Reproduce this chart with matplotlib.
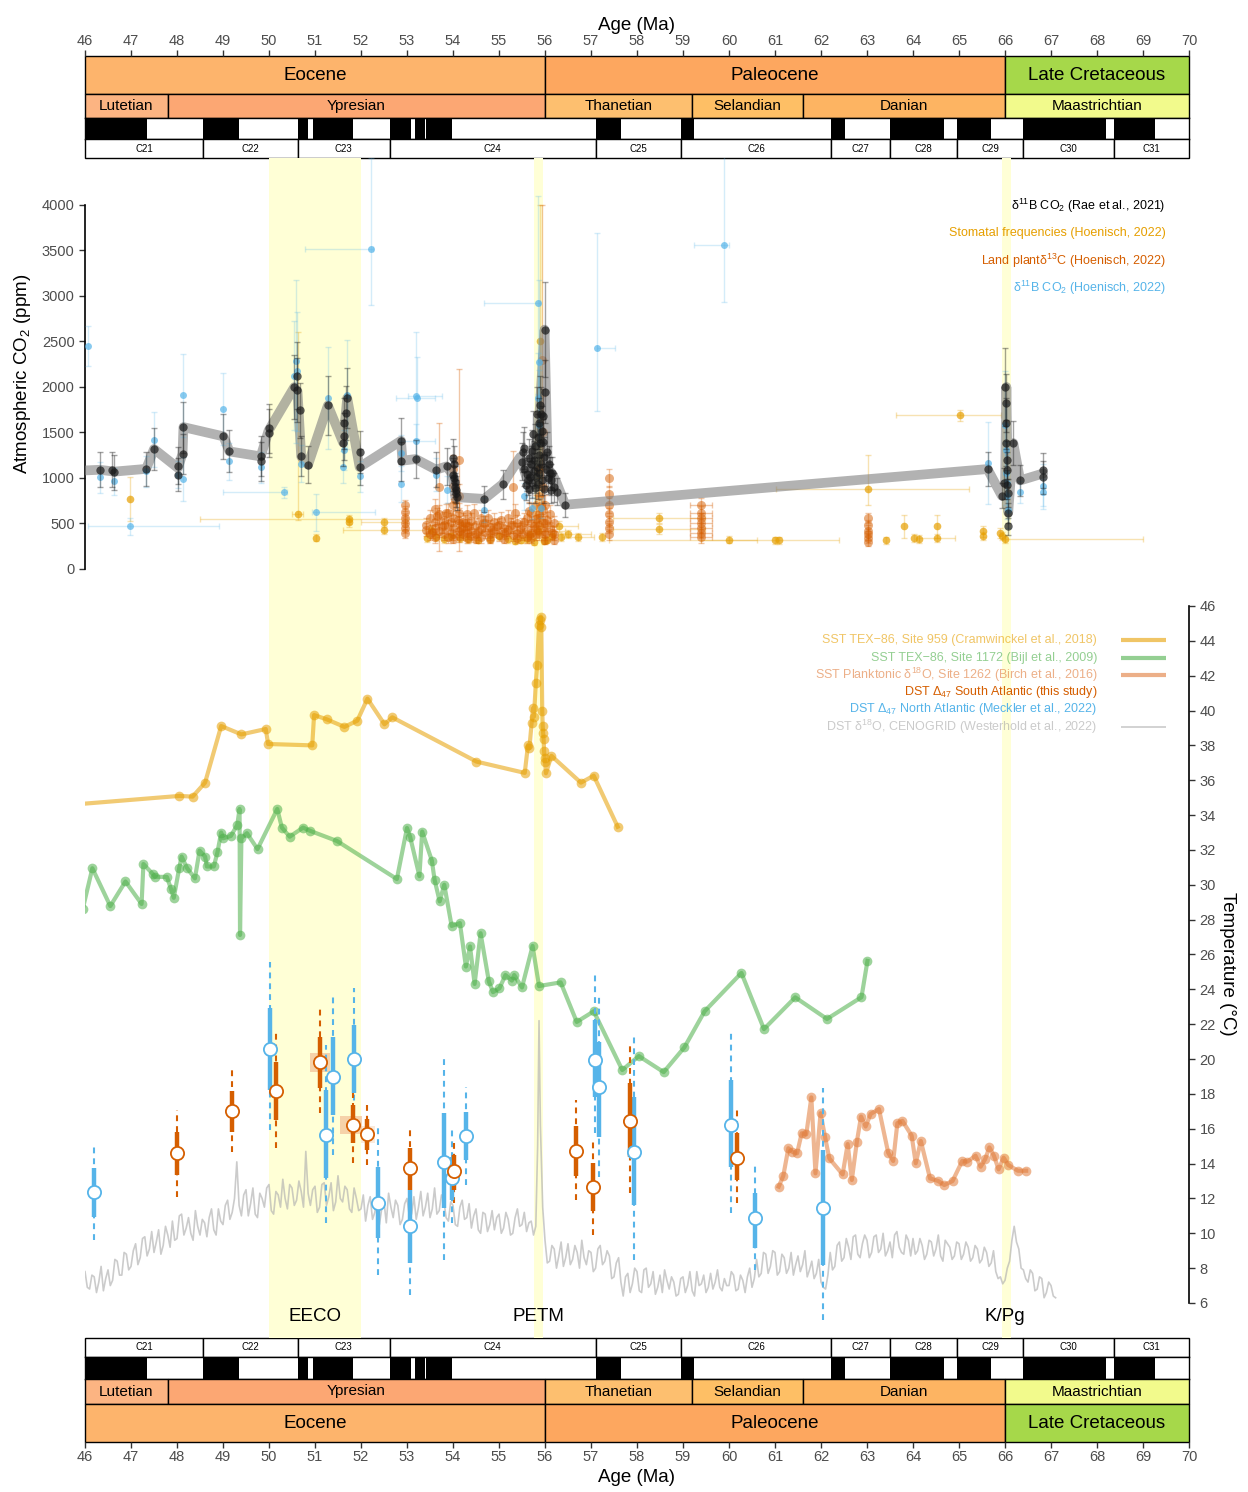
import matplotlib
matplotlib.use('Agg')
import matplotlib.pyplot as plt
from matplotlib.patches import Rectangle

plt.rcParams['font.family'] = ['Liberation Sans', 'DejaVu Sans']
plt.rcParams['mathtext.fontset'] = 'custom'
plt.rcParams['mathtext.rm'] = 'Liberation Sans'
plt.rcParams['mathtext.it'] = 'Liberation Sans:italic'
plt.rcParams['mathtext.default'] = 'regular'

# ---------------- geologic time scale ----------------
epochs = ['Eocene', 'Paleocene', 'Late Cretaceous']
epoch_start = [46.0, 56.0, 66.0]
epoch_end = [56.0, 66.0, 70.0]
epoch_col = ['#FDB46C', '#FDA75F', '#A6D84A']

stages = ['Lutetian', 'Ypresian', 'Thanetian', 'Selandian', 'Danian', 'Maastrichtian']
stage_start = [46.0, 47.8, 56.0, 59.2, 61.6, 66.0]
stage_end = [47.8, 56.0, 59.2, 61.6, 66.0, 70.0]
stage_col = ['#FCB482', '#FCA773', '#FDBF6F', '#FEBF65', '#FDB462', '#F2FA8C']

# normal polarity intervals
pol_start = [45.72, 48.57, 50.63, 50.95, 52.62, 53.18, 53.41, 57.10, 58.96, 62.22, 63.49, 64.96, 66.40, 68.37]
pol_end = [47.35, 49.34, 50.84, 51.83, 53.08, 53.39, 53.98, 57.66, 59.24, 62.52, 64.67, 65.69, 68.20, 69.27]

chrons = ['C21', 'C22', 'C23', 'C24', 'C25', 'C26', 'C27', 'C28', 'C29', 'C30', 'C31']
chron_start = [46.0, 48.57, 50.63, 52.62, 57.10, 58.96, 62.22, 63.49, 64.96, 66.40, 68.37]
chron_end = [48.57, 50.63, 52.62, 57.10, 58.96, 62.22, 63.49, 64.96, 66.40, 68.37, 70.0]

events = ['EECO', 'PETM', 'K/Pg']
event_start = [50.0, 55.75, 65.93]
event_end = [52.0, 55.95, 66.12]
event_label_age = [51.0, 55.85, 66.0]

# ---------------- CO2 ----------------
# Rae et al. 2021, boron isotopes
rae_age = [46.32, 46.58, 46.64, 47.33, 47.50, 48.02, 48.02, 48.12, 48.14, 49.01,
           49.14, 49.82, 49.82, 49.99, 49.99, 50.55, 50.60, 50.60, 50.68, 50.70,
           50.85, 51.28, 51.61, 51.63, 51.64, 51.67, 51.70, 51.97, 51.97, 52.87,
           52.87, 53.19, 53.63, 53.86, 53.99, 54.00, 54.02, 54.03, 54.04, 54.05,
           54.06, 54.07, 54.08, 54.68, 55.08,
           55.50, 55.52, 55.55, 55.55, 55.58, 55.60, 55.62, 55.65, 55.66, 55.68,
           55.70, 55.71, 55.72, 55.74, 55.75, 55.76, 55.78, 55.79, 55.80, 55.82,
           55.83, 55.84, 55.85, 55.86, 55.87, 55.88, 55.89, 55.90, 55.91, 55.92,
           55.93, 55.94, 55.95, 55.96, 55.97, 55.98, 55.99, 56.00, 56.02, 56.04,
           56.06, 56.08, 56.10, 56.12, 56.14, 56.16, 56.20, 56.25, 56.44,
           65.62, 65.93, 65.98, 66.01, 66.02, 66.03, 66.03, 66.04, 66.05, 66.05,
           66.06, 66.06, 66.07, 66.18, 66.33, 66.83, 66.83]
rae_co2 = [1091, 1091, 1061, 1098, 1318, 1135, 1036, 1266, 1559, 1457,
           1292, 1237, 1182, 1493, 1548, 1998, 1969, 2123, 1742, 1237,
           1146, 1797, 1383, 1457, 1603, 1713, 1878, 1281, 1120, 1409,
           1182, 1208, 1091, 1127, 1036, 1220, 1150, 1000, 960, 900,
           870, 830, 790, 769, 933,
           1180, 1290, 1330, 1100, 920, 1040, 980, 1220, 880, 1010,
           1150, 1300, 950, 1480, 1080, 1200, 890, 1350, 1010, 1120,
           1700, 930, 1450, 1600, 1250, 1050, 1800, 1380, 1700, 1150,
           980, 1520, 1680, 1400, 880, 1230, 2630, 1950, 1100, 1280,
           1000, 1150, 1050, 870, 980, 1050, 900, 850, 706,
           1098, 805, 940, 1998, 1823, 1603, 1383, 1200, 1091, 926,
           834, 615, 468, 1383, 973, 1083, 1006]
rae_err = [190, 190, 190, 190, 230, 200, 180, 220, 280, 250,
           230, 220, 210, 260, 270, 350, 350, 370, 300, 220,
           200, 320, 250, 260, 280, 300, 330, 230, 200, 250,
           210, 210, 190, 200, 180, 210, 200, 180, 170, 160,
           150, 150, 140, 140, 160,
           200, 220, 230, 190, 160, 180, 170, 210, 150, 180,
           200, 230, 170, 260, 190, 210, 160, 240, 180, 200,
           300, 160, 250, 280, 220, 180, 320, 240, 300, 200,
           170, 270, 300, 250, 150, 220, 520, 350, 190, 220,
           180, 200, 180, 150, 170, 180, 160, 150, 130,
           190, 140, 170, 430, 320, 280, 250, 210, 190, 160,
           150, 110, 90, 240, 170, 190, 180]

# smoothed path through the Rae et al. record
rae_fit_age = [46.0, 46.32, 46.64, 47.33, 47.50, 48.02, 48.12, 48.14, 49.01, 49.14,
               49.82, 49.99, 50.55, 50.62, 50.70, 50.85, 51.28, 51.61, 51.70, 51.97,
               52.87, 52.90, 53.19, 53.63, 53.86, 53.99, 54.05, 54.68, 55.08, 55.46,
               55.60, 55.75, 55.85, 55.99, 56.06, 56.15, 56.25, 56.44, 65.62, 65.93,
               66.00, 66.03, 66.07, 66.18, 66.33, 66.83]
rae_fit_co2 = [1083, 1090, 1070, 1100, 1318, 1110, 1266, 1559, 1457, 1292,
               1237, 1520, 1998, 1950, 1237, 1146, 1797, 1390, 1878, 1120,
               1409, 1190, 1208, 1091, 1127, 1040, 790, 770, 933, 1230,
               1000, 1300, 1450, 2630, 1100, 1050, 950, 706, 1098, 805,
               900, 2000, 620, 1383, 973, 1050]

# Hoenisch 2022 compilation, boron isotopes
hb_age = [46.06, 46.32, 46.64, 46.97, 47.33, 47.50, 48.02, 48.12, 48.13, 49.01,
          49.14, 49.82, 50.33, 50.55, 50.58, 50.60, 50.70, 51.03, 51.28, 51.61,
          51.63, 51.70, 51.97, 52.21, 52.87, 52.87, 53.19, 53.21, 53.19, 53.63,
          53.86, 54.68, 55.54, 55.71, 55.84, 55.85, 55.86, 55.88, 55.92, 57.12,
          59.89, 65.62, 66.01, 66.02, 66.03, 66.04, 66.05, 66.06, 66.33, 66.83,
          66.83]
hb_co2 = [2445, 1006, 963, 468, 1072, 1420, 1036, 988, 1907, 1757,
          1182, 1120, 842, 2126, 2280, 2170, 1157, 622, 1878, 1120,
          1310, 1914, 1017, 3514, 937, 1274, 1903, 1877, 1409, 1036,
          871, 651, 798, 670, 2928, 1878, 1585, 2270, 670, 2427,
          3561, 1164, 1580, 1310, 1050, 950, 800, 650, 842, 908,
          842]
hb_lo = [220, 170, 150, 90, 170, 300, 150, 240, 460, 400,
         200, 170, 60, 600, 900, 650, 200, 200, 560, 180,
         220, 600, 170, 610, 200, 200, 700, 450, 180, 180,
         150, 130, 150, 120, 1000, 500, 600, 900, 110, 690,
         630, 450, 600, 500, 350, 300, 250, 200, 120, 250,
         150]
hb_hi = [230, 170, 150, 90, 170, 300, 150, 240, 460, 400,
         200, 170, 60, 600, 900, 650, 200, 200, 560, 180,
         220, 600, 170, 1000, 200, 200, 700, 450, 180, 180,
         150, 130, 150, 120, 1170, 500, 600, 900, 110, 1270,
         1000, 450, 600, 500, 350, 300, 250, 200, 120, 250,
         150]
hb_xlo = [0, 0, 0, 0.91, 0, 0, 0, 0, 0, 0,
          0, 0, 1.33, 0, 0, 0, 0, 0.10, 0, 0,
          0, 0, 0, 1.43, 0, 0, 0.17, 0.45, 0.35, 0,
          0, 0, 0, 0, 1.16, 0, 0, 0, 0, 0,
          0.65, 0, 0, 0, 0, 0, 0, 0, 0, 0,
          0]
hb_xhi = [0, 0, 0, 1.95, 0, 0, 0, 0, 0, 0,
          0, 0, 0.07, 0, 0, 0, 0, 1.27, 0, 0,
          0, 0, 0, 0.05, 0, 0, 0.57, 0.40, 0.41, 0,
          0, 0, 0, 0, 0.05, 0, 0, 0, 0, 0.40,
          0.10, 0, 0, 0, 0, 0, 0, 0, 0, 0,
          0]

# Hoenisch 2022 compilation, stomatal frequencies
st_age = [46.97, 50.62, 51.03, 51.74, 51.74, 52.50, 52.50, 53.43, 53.52, 53.62,
          53.80, 53.95, 54.15, 54.32, 54.55, 54.80, 55.00, 55.20, 55.35, 55.48,
          55.60, 55.68, 55.76, 55.84, 55.90, 55.97, 56.05, 56.16, 56.31, 56.35,
          56.50, 56.71, 57.23, 58.48, 58.48, 60.00, 61.00, 61.08, 63.02, 63.41,
          63.80, 64.02, 64.12, 64.52, 64.52, 65.02, 65.52, 65.52, 65.89, 65.93,
          66.00]
st_co2 = [770, 600, 345, 545, 515, 515, 432, 340, 430, 350,
          330, 360, 340, 330, 320, 330, 360, 330, 310, 320,
          330, 370, 300, 420, 2500, 310, 320, 360, 468, 351,
          380, 351, 351, 560, 439, 322, 315, 315, 878, 315,
          468, 340, 330, 468, 340, 1687, 413, 359, 395, 359,
          330]
st_lo = [240, 60, 40, 50, 50, 50, 45, 40, 50, 40,
         40, 40, 40, 40, 40, 40, 40, 40, 40, 40,
         40, 45, 40, 50, 1500, 40, 40, 40, 60, 40,
         45, 40, 40, 60, 50, 40, 40, 40, 180, 40,
         130, 40, 40, 130, 40, 60, 60, 45, 50, 45,
         40]
st_hi = [240, 2000, 40, 50, 50, 50, 45, 40, 50, 40,
         40, 40, 40, 40, 40, 40, 40, 40, 40, 40,
         40, 45, 40, 50, 1500, 40, 40, 40, 60, 40,
         45, 40, 40, 60, 50, 40, 40, 40, 370, 40,
         130, 40, 40, 130, 40, 60, 60, 45, 50, 45,
         40]
st_xlo = [0, 0.12, 0, 3.25, 0, 0.5, 0.9, 0, 0, 0,
          0, 0, 0, 0, 0, 0, 0, 0, 0, 0,
          0, 0, 0, 0.6, 0, 0, 0, 0, 0.4, 0,
          0.3, 0.35, 0, 1.0, 1.0, 0.6, 3.6, 0, 2.0, 0,
          0, 0, 0, 0, 0.4, 1.4, 0, 0, 0, 0,
          0]
st_xhi = [0, 0.12, 0, 1.73, 0, 0.5, 0.9, 0, 0, 0,
          0, 0, 0, 0, 0, 0, 0, 0, 0, 0,
          0, 0, 0, 0.6, 0, 0, 0, 0, 0.4, 0,
          0.5, 0.35, 0, 1.0, 1.0, 0.6, 1.4, 0, 2.2, 0,
          0, 0, 0, 0, 0.4, 0.9, 0, 0, 0, 0,
          3.0]

# Hoenisch 2022 compilation, land plant d13C
lp_age = [52.96, 52.96, 52.96, 52.96, 52.96, 52.96,
          53.42, 53.42, 53.50, 53.50, 53.60, 53.60, 53.60, 53.60,
          53.69, 53.70, 53.70, 53.80, 53.80, 53.80, 53.90, 53.90, 53.90,
          54.00, 54.00, 54.00, 54.00, 54.00, 54.00, 54.00,
          54.14, 54.14, 54.14, 54.14, 54.14, 54.14,
          54.22, 54.22, 54.22, 54.30, 54.30, 54.30, 54.30,
          54.40, 54.40, 54.40, 54.50, 54.50, 54.50, 54.60, 54.60, 54.60,
          54.70, 54.70, 54.80, 54.80, 54.80, 54.90, 54.90, 55.00, 55.00,
          55.10, 55.10, 55.10, 55.20, 55.20, 55.30, 55.30, 55.30,
          55.40, 55.40, 55.40, 55.50, 55.50, 55.60, 55.60, 55.60,
          55.70, 55.70, 55.70, 55.70, 55.80, 55.80, 55.80, 55.80,
          55.88, 55.88, 55.88, 55.88, 55.88, 55.93,
          55.96, 55.96, 55.96, 55.96, 56.00, 56.00, 56.00, 56.00,
          56.10, 56.10, 56.20, 56.20, 56.20,
          57.39, 57.39, 57.39, 57.39, 57.39, 57.39, 57.39,
          59.39, 59.39, 59.39, 59.39, 59.39, 59.39, 59.39,
          63.02, 63.02, 63.02, 63.02, 63.02, 63.02,
          53.55, 53.65, 53.75, 53.85, 53.95, 54.05, 54.10, 54.18, 54.26, 54.35,
          54.45, 54.55, 54.65, 54.75, 54.85, 54.95, 55.05, 55.15, 55.25, 55.35,
          55.45, 55.55, 55.65, 55.75, 55.84, 55.91, 55.98, 56.05, 56.15]
lp_co2 = [700, 630, 560, 500, 450, 400,
          480, 430, 560, 380, 520, 450, 660, 350,
          900, 600, 420, 480, 540, 380, 460, 620, 350,
          1100, 900, 700, 560, 450, 380, 330,
          1200, 800, 620, 500, 420, 360,
          520, 450, 380, 600, 470, 400, 340,
          530, 420, 360, 480, 380, 330, 560, 440, 350,
          500, 410, 460, 380, 330, 520, 420, 480, 370,
          450, 390, 330, 560, 430, 900, 480, 370,
          510, 400, 340, 480, 380, 560, 420, 350,
          620, 500, 400, 340, 700, 550, 450, 380,
          1100, 800, 600, 480, 380, 2300,
          1500, 900, 650, 500, 700, 500, 380, 320,
          600, 450, 500, 380, 320,
          1000, 820, 700, 600, 520, 450, 380,
          700, 620, 560, 500, 450, 400, 350,
          560, 480, 420, 380, 340, 300,
          410, 580, 470, 610, 520, 760, 540, 440, 510, 470,
          610, 420, 500, 560, 430, 470, 540, 410, 480, 610,
          440, 520, 640, 470, 560, 690, 420, 540, 400]
lp_err = [60, 60, 60, 60, 60, 60,
          80, 70, 90, 60, 80, 70, 110, 60,
          700, 100, 70, 80, 90, 60, 80, 100, 60,
          150, 130, 110, 90, 80, 60, 50,
          1000, 130, 100, 80, 70, 60,
          90, 70, 60, 100, 80, 70, 60,
          90, 70, 60, 80, 60, 50, 90, 70, 60,
          80, 70, 80, 60, 50, 90, 70, 80, 60,
          70, 60, 50, 90, 70, 400, 80, 60,
          80, 70, 60, 80, 60, 90, 70, 60,
          100, 80, 70, 60, 110, 90, 70, 60,
          300, 200, 100, 80, 60, 1700,
          400, 200, 100, 80, 110, 80, 60, 50,
          100, 70, 80, 60, 50,
          100, 90, 80, 70, 60, 60, 60,
          80, 70, 60, 60, 60, 60, 60,
          60, 60, 60, 60, 60, 50,
          70, 90, 80, 100, 90, 120, 90, 70, 80, 80,
          100, 70, 80, 90, 70, 80, 90, 70, 80, 100,
          70, 90, 100, 80, 90, 110, 70, 90, 70]
lp_age_unc = {59.39: 0.24}

# ---------------- temperature ----------------
# SST TEX86, Site 959
s959_age = [45.5, 48.05, 48.34, 48.61, 48.96, 49.40, 49.93, 49.98, 50.94, 50.98,
            51.25, 51.64, 51.92, 52.14, 52.51, 52.68, 54.51, 55.56, 55.63, 55.66,
            55.71, 55.74, 55.76, 55.80, 55.83, 55.87, 55.89, 55.91, 55.92, 55.94,
            55.95, 55.96, 55.97, 55.98, 55.99, 56.00, 56.02, 56.14, 56.78, 57.06,
            57.58]
s959_temp = [34.55, 35.10, 35.06, 35.86, 39.11, 38.63, 38.94, 38.08, 38.00, 39.74,
             39.50, 39.06, 39.42, 40.68, 39.21, 39.61, 37.07, 36.42, 38.02, 37.83,
             39.30, 40.13, 39.65, 41.56, 42.60, 44.90, 45.20, 45.39, 44.80, 40.00,
             39.11, 38.70, 38.35, 37.70, 37.30, 37.05, 36.40, 37.40, 35.86, 36.26,
             33.33]

# SST TEX86, Site 1172
s1172_age = [45.95, 46.16, 46.55, 46.88, 47.23, 47.27, 47.48, 47.52, 47.78, 47.87,
             47.93, 48.05, 48.10, 48.22, 48.39, 48.49, 48.61, 48.65, 48.80, 48.88,
             48.96, 49.00, 49.17, 49.31, 49.36, 49.37, 49.40, 49.52, 49.75, 50.18,
             50.28, 50.45, 50.74, 50.90, 51.48, 52.78, 53.00, 53.07, 53.27, 53.33,
             53.54, 53.60, 53.71, 53.81, 53.97, 54.15, 54.28, 54.37, 54.47, 54.60,
             54.78, 54.87, 55.01, 55.14, 55.28, 55.33, 55.50, 55.73, 55.87, 56.34,
             56.69, 57.06, 57.68, 58.04, 58.58, 59.03, 59.47, 60.27, 60.76, 61.44,
             62.13, 62.88, 63.01]
s1172_temp = [28.60, 30.95, 28.78, 30.19, 28.90, 31.19, 30.60, 30.46, 30.45, 29.76,
              29.25, 30.99, 31.62, 30.95, 30.37, 31.96, 31.62, 31.05, 31.05, 31.87,
              33.00, 32.67, 32.80, 33.43, 34.35, 27.12, 32.67, 32.96, 32.05, 34.35,
              33.28, 32.76, 33.28, 33.09, 32.51, 30.33, 33.26, 32.73, 30.50, 33.05,
              31.39, 30.28, 29.05, 30.00, 27.64, 27.80, 25.31, 26.46, 24.31, 27.22,
              24.45, 23.84, 24.06, 24.82, 24.50, 24.82, 24.11, 26.49, 24.19, 24.40,
              22.13, 22.74, 19.37, 20.17, 19.25, 20.67, 22.74, 24.94, 21.72, 23.54,
              22.30, 23.55, 25.63]

# SST planktonic d18O, Site 1262
s1262_age = [61.08, 61.18, 61.29, 61.37, 61.48, 61.58, 61.68, 61.79, 61.88, 61.99,
             62.09, 62.18, 62.47, 62.58, 62.67, 62.78, 62.87, 62.97, 63.08, 63.26,
             63.46, 63.57, 63.66, 63.77, 63.97, 64.06, 64.17, 64.37, 64.55, 64.68,
             64.86, 65.07, 65.18, 65.36, 65.47, 65.57, 65.66, 65.76, 65.86, 65.97,
             66.07, 66.28, 66.46]
s1262_temp = [12.68, 13.29, 14.88, 14.68, 14.59, 15.74, 15.68, 17.80, 13.44, 16.89,
              15.50, 14.30, 13.38, 15.12, 13.06, 15.26, 16.70, 16.13, 16.85, 17.13,
              14.63, 14.15, 16.32, 16.45, 15.61, 14.02, 15.30, 13.15, 13.00, 12.77,
              13.00, 14.15, 14.11, 14.45, 13.82, 14.26, 14.93, 14.45, 13.67, 14.34,
              13.92, 13.59, 13.59]

# DST d18O, CENOGRID
ceno_age = [46.0, 46.05, 46.1, 46.15, 46.2, 46.25, 46.3, 46.35, 46.4, 46.45, 46.5, 46.55, 46.6, 46.65, 46.7, 46.75, 46.8, 46.85, 46.9, 46.95,
            47.0, 47.05, 47.1, 47.15, 47.2, 47.25, 47.3, 47.35, 47.4, 47.45, 47.5, 47.55, 47.6, 47.65, 47.7, 47.75, 47.8, 47.85, 47.9, 47.95,
            48.0, 48.05, 48.1, 48.15, 48.2, 48.25, 48.3, 48.35, 48.4, 48.45, 48.5, 48.55, 48.6, 48.65, 48.7, 48.75, 48.8, 48.85, 48.9, 48.95,
            49.0, 49.05, 49.1, 49.15, 49.2, 49.25, 49.3, 49.35, 49.4, 49.45, 49.5, 49.55, 49.6, 49.65, 49.7, 49.75, 49.8, 49.85, 49.9, 49.95,
            50.0, 50.05, 50.1, 50.15, 50.2, 50.25, 50.3, 50.35, 50.4, 50.45, 50.5, 50.55, 50.6, 50.65, 50.7, 50.75, 50.8, 50.85, 50.9, 50.95,
            51.0, 51.05, 51.1, 51.15, 51.2, 51.25, 51.3, 51.35, 51.4, 51.45, 51.5, 51.55, 51.6, 51.65, 51.7, 51.75, 51.8, 51.85, 51.9, 51.95,
            52.0, 52.05, 52.1, 52.15, 52.2, 52.25, 52.3, 52.35, 52.4, 52.45, 52.5, 52.55, 52.6, 52.65, 52.7, 52.75, 52.8, 52.85, 52.9, 52.95,
            53.0, 53.05, 53.1, 53.15, 53.2, 53.25, 53.3, 53.35, 53.4, 53.45, 53.5, 53.55, 53.6, 53.65, 53.7, 53.75, 53.8, 53.85, 53.9, 53.95,
            54.0, 54.05, 54.1, 54.15, 54.2, 54.25, 54.3, 54.35, 54.4, 54.45, 54.5, 54.55, 54.6, 54.65, 54.7, 54.75, 54.8, 54.85, 54.9, 54.95,
            55.0, 55.05, 55.1, 55.15, 55.2, 55.25, 55.3, 55.35, 55.4, 55.45, 55.5, 55.55, 55.6, 55.65, 55.7, 55.75, 55.8, 55.84, 55.87, 55.9, 55.95,
            56.0, 56.05, 56.1, 56.15, 56.2, 56.25, 56.3, 56.35, 56.4, 56.45, 56.5, 56.55, 56.6, 56.65, 56.7, 56.75, 56.8, 56.85, 56.9, 56.95,
            57.0, 57.05, 57.1, 57.15, 57.2, 57.25, 57.3, 57.35, 57.4, 57.45, 57.5, 57.55, 57.6, 57.65, 57.7, 57.75, 57.8, 57.85, 57.9, 57.95,
            58.0, 58.05, 58.1, 58.15, 58.2, 58.25, 58.3, 58.35, 58.4, 58.45, 58.5, 58.55, 58.6, 58.65, 58.7, 58.75, 58.8, 58.85, 58.9, 58.95,
            59.0, 59.05, 59.1, 59.15, 59.2, 59.25, 59.3, 59.35, 59.4, 59.45, 59.5, 59.55, 59.6, 59.65, 59.7, 59.75, 59.8, 59.85, 59.9, 59.95,
            60.0, 60.05, 60.1, 60.15, 60.2, 60.25, 60.3, 60.35, 60.4, 60.45, 60.5, 60.55, 60.6, 60.65, 60.7, 60.75, 60.8, 60.85, 60.9, 60.95,
            61.0, 61.05, 61.1, 61.15, 61.2, 61.25, 61.3, 61.35, 61.4, 61.45, 61.5, 61.55, 61.6, 61.65, 61.7, 61.75, 61.8, 61.85, 61.9, 61.95,
            62.0, 62.05, 62.1, 62.15, 62.2, 62.25, 62.3, 62.35, 62.4, 62.45, 62.5, 62.55, 62.6, 62.65, 62.7, 62.75, 62.8, 62.85, 62.9, 62.95,
            63.0, 63.05, 63.1, 63.15, 63.2, 63.25, 63.3, 63.35, 63.4, 63.45, 63.5, 63.55, 63.6, 63.65, 63.7, 63.75, 63.8, 63.85, 63.9, 63.95,
            64.0, 64.05, 64.1, 64.15, 64.2, 64.25, 64.3, 64.35, 64.4, 64.45, 64.5, 64.55, 64.6, 64.65, 64.7, 64.75, 64.8, 64.85, 64.9, 64.95,
            65.0, 65.05, 65.1, 65.15, 65.2, 65.25, 65.3, 65.35, 65.4, 65.45, 65.5, 65.55, 65.6, 65.65, 65.7, 65.75, 65.8, 65.85, 65.9, 65.95,
            66.0, 66.05, 66.1, 66.15, 66.2, 66.25, 66.3, 66.35, 66.4, 66.45, 66.5, 66.55, 66.6, 66.65, 66.7, 66.75, 66.8, 66.85, 66.9, 66.95,
            67.0, 67.05, 67.1]
ceno_temp = [7.8, 6.9, 6.8, 7.6, 7.5, 6.6, 7.2, 8.1, 6.7, 7.4, 7.9, 7.0, 7.3, 8.5, 8.4, 7.6, 7.6, 8.9, 8.8, 7.9,
             8.1, 9.0, 9.4, 8.2, 8.6, 9.7, 9.8, 8.7, 9.1, 10.1, 8.9, 9.5, 10.2, 8.8, 9.3, 10.4, 9.9, 9.2, 10.7, 9.6,
             9.7, 11.0, 11.1, 9.9, 10.3, 10.9, 10.0, 9.6, 11.3, 10.4, 9.9, 10.8, 10.6, 9.8, 10.9, 11.4, 10.2, 9.9, 11.4, 10.7,
             10.5, 11.6, 11.9, 10.8, 11.2, 12.0, 14.1, 11.6, 11.0, 12.2, 12.5, 11.0, 11.7, 12.6, 11.1, 10.9, 12.3, 12.0, 11.5, 12.6,
             12.8, 11.3, 11.1, 12.4, 12.2, 11.5, 13.1, 12.0, 11.4, 12.8, 12.6, 11.6, 11.9, 13.0, 12.4, 11.5, 14.7, 12.3, 11.6, 12.5,
             12.7, 11.2, 11.5, 12.8, 12.9, 11.6, 12.1, 12.9, 11.3, 11.8, 13.3, 12.0, 11.8, 12.7, 12.5, 11.4, 11.2, 12.6, 12.0, 11.3,
             11.4, 12.2, 10.7, 11.6, 12.1, 10.8, 11.2, 12.0, 10.5, 11.4, 11.8, 10.6, 12.3, 11.5, 10.9, 11.9, 11.6, 10.5, 10.8, 11.7,
             12.0, 11.0, 11.1, 12.1, 10.8, 11.5, 12.4, 11.0, 11.5, 12.3, 10.9, 11.4, 12.6, 11.1, 11.3, 12.2, 11.9, 10.9, 10.7, 11.8,
             11.6, 10.5, 10.4, 11.5, 11.9, 10.8, 10.9, 11.7, 10.3, 11.0, 11.4, 10.2, 10.0, 11.2, 11.1, 10.1, 10.5, 11.3, 10.2, 10.9,
             11.1, 10.0, 10.3, 11.2, 10.8, 9.9, 10.0, 10.9, 11.4, 10.4, 10.5, 11.2, 10.1, 10.6, 10.7, 9.9, 10.4, 15.0, 22.2, 16.2, 11.5,
             9.6, 8.3, 8.4, 9.3, 9.1, 8.0, 8.7, 9.5, 8.1, 8.6, 9.4, 8.2, 8.5, 9.3, 8.9, 8.0, 9.6, 8.6, 8.2, 9.0,
             8.9, 7.8, 8.0, 9.1, 9.3, 8.2, 8.4, 9.0, 8.7, 7.4, 7.5, 8.3, 8.6, 7.2, 6.4, 7.5, 7.7, 6.6, 7.1, 8.0,
             7.8, 6.7, 6.6, 7.9, 8.0, 6.9, 7.1, 7.8, 6.5, 6.9, 7.6, 6.6, 7.9, 7.3, 6.8, 7.5, 7.2, 6.4, 6.5, 7.4,
             7.5, 6.6, 7.0, 7.8, 6.7, 6.4, 7.8, 7.0, 7.1, 7.6, 6.6, 6.9, 7.7, 6.8, 7.2, 7.9, 6.9, 6.7, 7.4, 7.0,
             7.0, 7.8, 7.6, 6.7, 6.8, 7.6, 7.3, 6.6, 7.5, 8.0, 6.9, 7.4, 8.5, 7.5, 7.7, 8.9, 8.8, 7.7, 8.1, 9.0,
             8.9, 7.6, 7.8, 8.8, 8.6, 7.7, 8.0, 8.9, 7.6, 8.2, 8.7, 7.8, 8.2, 9.0, 7.5, 7.9, 8.4, 7.4, 7.7, 8.5,
             7.2, 6.9, 6.8, 7.6, 8.9, 7.9, 8.1, 9.3, 9.5, 8.4, 8.6, 9.7, 9.2, 8.5, 9.8, 9.9, 8.8, 8.6, 9.4, 9.9,
             9.6, 8.6, 8.9, 9.8, 9.9, 8.9, 9.1, 10.0, 8.7, 9.0, 9.5, 8.6, 9.9, 10.1, 9.2, 8.9, 8.8, 9.9, 9.6, 8.7,
             9.7, 8.8, 9.0, 9.7, 9.3, 8.5, 8.8, 9.6, 9.5, 8.7, 9.1, 9.9, 8.7, 8.4, 9.6, 9.4, 9.2, 8.5, 8.7, 9.5,
             9.4, 8.5, 8.8, 9.5, 9.2, 8.4, 8.6, 9.3, 9.1, 8.3, 8.5, 9.2, 8.9, 8.1, 8.3, 9.0, 7.8, 7.4, 7.5, 7.1,
             7.3, 8.0, 8.4, 9.6, 10.4, 9.5, 9.1, 8.0, 7.9, 7.4, 7.2, 7.9, 7.7, 6.7, 6.8, 7.5, 7.4, 6.3, 6.6, 7.2,
             7.0, 6.4, 6.3]

# DST clumped isotopes, North Atlantic (Meckler et al. 2022)
na_age = [46.20, 50.03, 51.23, 51.39, 51.85, 52.37, 53.07, 53.81, 53.97, 54.28,
          57.08, 57.18, 57.94, 60.05, 60.56, 62.04]
na_temp = [12.35, 20.58, 15.64, 18.99, 19.98, 11.76, 10.44, 14.11, 13.19, 15.58,
           19.95, 18.38, 14.68, 16.21, 10.86, 11.43]
na_lo68 = [10.94, 18.22, 13.15, 16.79, 18.04, 9.71, 8.28, 11.43, 11.91, 14.21,
           17.85, 15.55, 11.62, 13.82, 9.14, 8.18]
na_hi68 = [13.75, 22.91, 18.22, 21.28, 21.95, 13.82, 12.48, 16.89, 14.40, 16.98,
           22.24, 21.00, 17.84, 18.80, 12.29, 14.78]
na_lo95 = [9.60, 15.93, 10.57, 14.49, 15.74, 7.61, 6.46, 8.47, 10.57, 12.77,
           15.74, 13.25, 8.47, 11.15, 7.89, 5.02]
na_hi95 = [15.20, 25.59, 20.80, 23.68, 24.07, 16.13, 14.21, 20.13, 15.93, 18.42,
           24.82, 23.78, 21.38, 21.49, 13.92, 18.32]

# DST clumped isotopes, South Atlantic
sa_age = [47.99, 49.20, 50.15, 51.11, 51.82, 52.13, 53.06, 54.02, 56.67, 57.04, 57.85, 60.18]
sa_temp = [14.59, 17.00, 18.17, 19.85, 16.21, 15.68, 13.73, 13.58, 14.72, 12.64, 16.44, 14.34]
sa_lo68 = [13.35, 15.83, 16.50, 18.32, 15.16, 14.78, 12.48, 12.48, 13.29, 11.30, 14.40, 13.06]
sa_hi68 = [15.83, 18.19, 19.85, 21.28, 17.36, 16.54, 14.88, 14.49, 16.17, 14.05, 18.64, 15.74]
sa_lo95 = [12.10, 14.68, 14.88, 16.89, 14.02, 13.92, 11.24, 11.72, 11.91, 9.90, 12.30, 11.72]
sa_hi95 = [17.08, 19.37, 21.58, 22.85, 18.32, 17.46, 16.04, 15.35, 17.65, 15.45, 20.90, 17.08]
# age / temperature ranges of pooled samples
sa_box_age0 = [50.90, 51.54, 51.99]
sa_box_age1 = [51.33, 52.02, 52.30]
sa_box_t0 = [19.24, 15.68, 15.16]
sa_box_t1 = [20.36, 16.73, 16.17]

C_BLACK = '#1A1A1A'
C_STOM = '#E69F00'
C_LAND = '#D55E00'
C_BLUE = '#56B4E9'
C_959 = '#E69F00'
C_1172 = '#4DAF4A'
C_1262 = '#E07B39'
TICK_COL = '#4D4D4D'

W, H = 1248, 1492
fig = plt.figure(figsize=(W / 100, H / 100), dpi=100)


def box(x0, y0, x1, y1):
    return [x0 / W, 1 - y1 / H, (x1 - x0) / W, (y1 - y0) / H]


def strip(rect, starts, ends, colors, names, size):
    ax = fig.add_axes(rect)
    widths = [e - s for s, e in zip(starts, ends)]
    bars = ax.barh(0.5, widths, left=starts, height=1.0, color=colors,
                   edgecolor='black', linewidth=1.0)
    for b in bars:
        b.set_clip_on(False)
    for s, e, n in zip(starts, ends, names):
        ax.text((s + e) / 2, 0.5, n, ha='center', va='center', fontsize=size)
    ax.set_xlim(46, 70)
    ax.set_ylim(0, 1)
    for sp in ax.spines.values():
        sp.set_visible(False)
    ax.set_xticks([])
    ax.set_yticks([])
    return ax


def polarity(rect):
    ax = fig.add_axes(rect)
    ax.barh(0.5, [e - s for s, e in zip(pol_start, pol_end)], left=pol_start,
            height=1.0, color='black', linewidth=0)
    ax.set_xlim(46, 70)
    ax.set_ylim(0, 1)
    ax.set_xticks([])
    ax.set_yticks([])
    for sp in ax.spines.values():
        sp.set_linewidth(1.0)
    return ax


def age_axis(ax, side):
    ax.set_xticks(range(46, 71))
    if side == 'top':
        ax.tick_params(axis='x', top=True, labeltop=True, bottom=False, labelbottom=False)
        ax.xaxis.set_label_position('top')
    ax.tick_params(axis='x', direction='out', length=4, width=1, color='#333333',
                   labelcolor=TICK_COL, labelsize=10.5, pad=2)
    ax.set_xlabel('Age (Ma)', fontsize=13.5, labelpad=3)


# time scale strips, top and bottom
ep_top = strip(box(85, 56, 1189, 94), epoch_start, epoch_end, epoch_col, epochs, 13.5)
age_axis(ep_top, 'top')
strip(box(85, 94, 1189, 118), stage_start, stage_end, stage_col, stages, 11)
polarity(box(85, 118, 1189, 139))
strip(box(85, 139, 1189, 158), chron_start, chron_end, ['white'] * len(chrons), chrons, 7)

strip(box(85, 1338, 1189, 1357), chron_start, chron_end, ['white'] * len(chrons), chrons, 7)
polarity(box(85, 1357, 1189, 1379))
strip(box(85, 1379, 1189, 1404), stage_start, stage_end, stage_col, stages, 11)
ep_bot = strip(box(85, 1404, 1189, 1442), epoch_start, epoch_end, epoch_col, epochs, 13.5)
age_axis(ep_bot, 'bottom')

# event bands behind both panels
axb = fig.add_axes(box(85, 158, 1189, 1338))
axb.set_xlim(46, 70)
axb.set_ylim(0, 1)
axb.axis('off')
for s, e in zip(event_start, event_end):
    axb.axvspan(s, e, color='#FFFFD6', lw=0)

# ---------------- CO2 panel ----------------
ax1 = fig.add_axes(box(85, 158, 1189, 590))
ax1.patch.set_alpha(0)
ax1.set_xlim(46, 70)
ax1.set_ylim(-231, 4516)
for k in ['top', 'right', 'bottom']:
    ax1.spines[k].set_visible(False)
ax1.spines['left'].set_bounds(0, 4000)
ax1.spines['left'].set_linewidth(1.2)
ax1.set_xticks([])
ax1.set_yticks(range(0, 4001, 500))
ax1.tick_params(axis='y', direction='out', length=4, width=1, color='#333333',
                labelcolor=TICK_COL, labelsize=10.5)
ax1.set_ylabel('Atmospheric CO$_2$ (ppm)', fontsize=13.5, labelpad=6)


def co2_series(age, val, lo, hi, xlo, xhi, color, ms, a_pt, a_bar, z):
    ax1.errorbar(age, val, yerr=[lo, hi], fmt='none', ecolor=color, elinewidth=1,
                 capsize=2, capthick=1, alpha=a_bar, zorder=z)
    idx = [i for i in range(len(age)) if xlo[i] or xhi[i]]
    if idx:
        ax1.errorbar([age[i] for i in idx], [val[i] for i in idx],
                     xerr=[[xlo[i] for i in idx], [xhi[i] for i in idx]], fmt='none',
                     ecolor=color, elinewidth=1, capsize=2, capthick=1, alpha=a_bar, zorder=z)
    ax1.plot(age, val, 'o', ms=ms, color=color, alpha=a_pt, mec='none', zorder=z + 0.5)


co2_series(st_age, st_co2, st_lo, st_hi, st_xlo, st_xhi, C_STOM, 5.5, 0.7, 0.3, 2)
lp_x = [lp_age_unc.get(a, 0) for a in lp_age]
co2_series(lp_age, lp_co2, lp_err, lp_err, lp_x, lp_x, C_LAND, 6.5, 0.5, 0.35, 3)
ax1.plot(rae_fit_age, rae_fit_co2, '-', color='#7F7F7F', alpha=0.6, lw=7,
         solid_joinstyle='round', solid_capstyle='round', zorder=4)
co2_series(hb_age, hb_co2, hb_lo, hb_hi, hb_xlo, hb_xhi, C_BLUE, 5, 0.7, 0.25, 5)
zeros = [0] * len(rae_age)
co2_series(rae_age, rae_co2, rae_err, rae_err, zeros, zeros, C_BLACK, 6, 0.7, 0.4, 6)

co2_legend = [('δ$^{11}$B CO$_2$ (Rae et al., 2021)', 'black'),
              ('Stomatal frequencies (Hoenisch, 2022)', C_STOM),
              ('Land plantδ$^{13}$C (Hoenisch, 2022)', C_LAND),
              ('δ$^{11}$B CO$_2$ (Hoenisch, 2022)', C_BLUE)]
for (txt, col), yy in zip(co2_legend, [0.889, 0.826, 0.762, 0.699]):
    ax1.text(0.979, yy, txt, color=col, fontsize=9, ha='right', va='center',
             transform=ax1.transAxes)

# ---------------- temperature panel ----------------
ax2 = fig.add_axes(box(85, 590, 1189, 1338))
ax2.patch.set_alpha(0)
ax2.set_xlim(46, 70)
ax2.set_ylim(3.991, 46.917)
for k in ['top', 'left', 'bottom']:
    ax2.spines[k].set_visible(False)
ax2.spines['right'].set_bounds(6, 46)
ax2.spines['right'].set_linewidth(1.2)
ax2.set_xticks([])
ax2.yaxis.tick_right()
ax2.yaxis.set_label_position('right')
ax2.set_yticks(range(6, 47, 2))
ax2.tick_params(axis='y', direction='out', length=4, width=1, color='#333333',
                labelcolor=TICK_COL, labelsize=10.5)
ax2.set_ylabel('Temperature (°C)', fontsize=13.5, rotation=270, va='bottom', labelpad=2)

ax2.plot(ceno_age, ceno_temp, '-', color='#B0B0B0', alpha=0.65, lw=1.2, zorder=2)

for age, temp, col in [(s959_age, s959_temp, C_959), (s1172_age, s1172_temp, C_1172),
                       (s1262_age, s1262_temp, C_1262)]:
    ax2.plot(age, temp, '-', color=col, alpha=0.55, lw=3, solid_joinstyle='round', zorder=3)
    ax2.plot(age, temp, 'o', color=col, alpha=0.55, ms=7, mec='none', zorder=3.5)

for a0, a1, t0, t1, al in zip(sa_box_age0, sa_box_age1, sa_box_t0, sa_box_t1, [0.75, 0.75, 0.35]):
    ax2.add_patch(Rectangle((a0, t0), a1 - a0, t1 - t0, facecolor='#F3C49B', alpha=al,
                            lw=0, zorder=4))

for age, temp, lo95, hi95, lo68, hi68, col in [
        (na_age, na_temp, na_lo95, na_hi95, na_lo68, na_hi68, C_BLUE),
        (sa_age, sa_temp, sa_lo95, sa_hi95, sa_lo68, sa_hi68, C_LAND)]:
    ax2.vlines(age, lo95, hi95, colors=col, linestyles=(0, (2.8, 2.4)), linewidth=1.5, zorder=5)
    ax2.vlines(age, lo68, hi68, colors=col, linewidth=3.2, zorder=5.5)
    ax2.plot(age, temp, 'o', ms=9.5, mfc='white', mec=col, mew=1.3, zorder=6)

for name, a in zip(events, event_label_age):
    ax2.text(a, 5.2, name, ha='center', va='center', fontsize=13.5)

temp_legend = [('SST TEX−86, Site 959 (Cramwinckel et al., 2018)', C_959, 0.6, 3),
               ('SST TEX−86, Site 1172 (Bijl et al., 2009)', C_1172, 0.6, 3),
               ('SST Planktonic δ$^{18}$O, Site 1262 (Birch et al., 2016)', C_1262, 0.6, 3),
               ('DST Δ$_{47}$ South Atlantic (this study)', C_LAND, 1.0, 0),
               ('DST Δ$_{47}$ North Atlantic (Meckler et al., 2022)', C_BLUE, 1.0, 0),
               ('DST δ$^{18}$O, CENOGRID (Westerhold et al., 2022)', '#A8A8A8', 0.6, 1.2)]
for (txt, col, al, lw), yy in zip(temp_legend, [0.9332, 0.9091, 0.8864, 0.8636, 0.8409, 0.8168]):
    ax2.text(0.9167, yy, txt, color=col, alpha=al, fontsize=9, ha='right', va='center',
             transform=ax2.transAxes)
    if lw:
        ax2.plot([0.9384, 0.9792], [yy, yy], color=col, alpha=al, lw=lw,
                 transform=ax2.transAxes, solid_capstyle='butt')

fig.savefig('out.png', dpi=100)
